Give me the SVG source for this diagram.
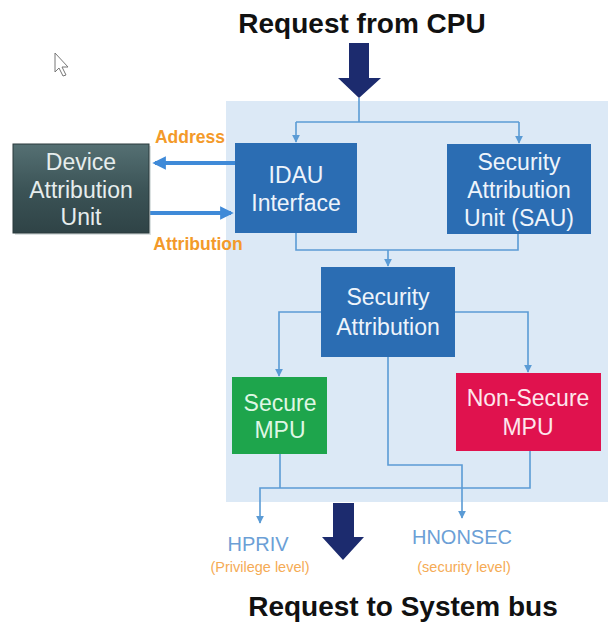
<svg xmlns="http://www.w3.org/2000/svg" width="608" height="623" viewBox="0 0 608 623">
<defs>
<style>
.t{font-family:"Liberation Sans",Arial,sans-serif;text-anchor:middle;}
.box{font-size:23px;fill:#eef4fb;}
.title{font-size:28px;font-weight:bold;fill:#111;}
.lab{font-size:17.5px;font-weight:bold;fill:#f39a2a;}
.sig{font-size:20px;fill:#6c9fd6;}
.sub{font-size:14.5px;fill:#f5ab55;}
.c{fill:none;stroke:#5b9bd5;stroke-width:1.6;}
.big{fill:#1c2b6e;}
</style>
<marker id="ah" viewBox="0 0 10 10" refX="9" refY="5" markerWidth="5" markerHeight="5" orient="auto"><path d="M0,0 L10,5 L0,10 z" fill="#5b9bd5"/></marker>
<marker id="ab" viewBox="0 0 10 10" refX="8" refY="5" markerWidth="3.4" markerHeight="3.4" orient="auto"><path d="M0,0 L10,5 L0,10 z" fill="#3f8ad8"/></marker>
<linearGradient id="dg" x1="0" y1="0" x2="0" y2="1"><stop offset="0" stop-color="#557073"/><stop offset="0.5" stop-color="#3c5457"/><stop offset="1" stop-color="#2f4346"/></linearGradient>
</defs>
<rect x="0" y="0" width="608" height="623" fill="#ffffff"/>
<rect x="226" y="101" width="382" height="401" fill="#dce9f6"/>
<path d="M55,53 L55,72 L59,68 L63,76 L66,75 L62,67 L68,67 Z" fill="#fff" stroke="#777" stroke-width="1"/>
<text class="t title" x="362" y="33">Request from CPU</text>
<text class="t title" x="403" y="616">Request to System bus</text>
<g id="connectors">
<path class="big" d="M349,43 H369 V78 H381 L359,98 L338,78 H349 Z"/>
<path class="big" d="M333,503 H354 V537 H364 L343,560 L322,537 H333 Z"/>
<path class="c" d="M359,98 V122"/>
<path class="c" d="M296,122 H519"/>
<path class="c" d="M296,122 V142" marker-end="url(#ah)"/>
<path class="c" d="M519,122 V143" marker-end="url(#ah)"/>
<path class="c" d="M296,233 V250 H518 V234"/>
<path class="c" d="M388,250 V266" marker-end="url(#ah)"/>
<path class="c" d="M321,312 H279 V376" marker-end="url(#ah)"/>
<path class="c" d="M455,312 H528 V372" marker-end="url(#ah)"/>
<path class="c" d="M388,357 V465 H462 V518" marker-end="url(#ah)"/>
<path class="c" d="M280,454 V488"/>
<path class="c" d="M530,451 V488 H260 V523" marker-end="url(#ah)"/>
<path d="M235,163 H155" stroke="#3f8ad8" stroke-width="4" fill="none" marker-end="url(#ab)"/>
<path d="M150,213 H231" stroke="#3f8ad8" stroke-width="4" fill="none" marker-end="url(#ab)"/>
</g>
<text class="t lab" x="190" y="143">Address</text>
<text class="t lab" x="198" y="250">Attribution</text>
<g id="dau">
<rect x="15" y="146" width="136" height="89" fill="#9aa" opacity="0.35"/>
<rect x="13" y="144" width="136" height="89" fill="url(#dg)" stroke="#2a3b3d" stroke-width="1"/>
<text class="t box" x="81" y="170" style="fill:#e6eded">Device</text>
<text class="t box" x="81" y="198" style="fill:#e6eded">Attribution</text>
<text class="t box" x="81" y="225" style="fill:#e6eded">Unit</text>
</g>
<g id="idau">
<rect x="235" y="143" width="122" height="90" fill="#2b6db3"/>
<text class="t box" x="296" y="183">IDAU</text>
<text class="t box" x="296" y="211">Interface</text>
</g>
<g id="sau">
<rect x="447" y="144" width="144" height="90" fill="#2b6db3"/>
<text class="t box" x="519" y="170">Security</text>
<text class="t box" x="519" y="198">Attribution</text>
<text class="t box" x="519" y="226">Unit (SAU)</text>
</g>
<g id="secattr">
<rect x="321" y="267" width="134" height="90" fill="#2b6db3"/>
<text class="t box" x="388" y="305">Security</text>
<text class="t box" x="388" y="335">Attribution</text>
</g>
<g id="secmpu">
<rect x="232" y="377" width="95" height="77" fill="#1ea54c"/>
<text class="t box" x="280" y="411" style="fill:#dff7e4">Secure</text>
<text class="t box" x="280" y="438" style="fill:#dff7e4">MPU</text>
</g>
<g id="nsmpu">
<rect x="456" y="373" width="145" height="78" fill="#e0124e"/>
<text class="t box" x="528" y="406" style="fill:#fde6ec">Non-Secure</text>
<text class="t box" x="528" y="435" style="fill:#fde6ec">MPU</text>
</g>
<g id="hpriv">
<text class="t sig" x="258" y="551">HPRIV</text>
<text class="t sub" x="260" y="572">(Privilege level)</text>
</g>
<g id="hnonsec">
<text class="t sig" x="462" y="544">HNONSEC</text>
<text class="t sub" x="464" y="572">(security level)</text>
</g>
</svg>
